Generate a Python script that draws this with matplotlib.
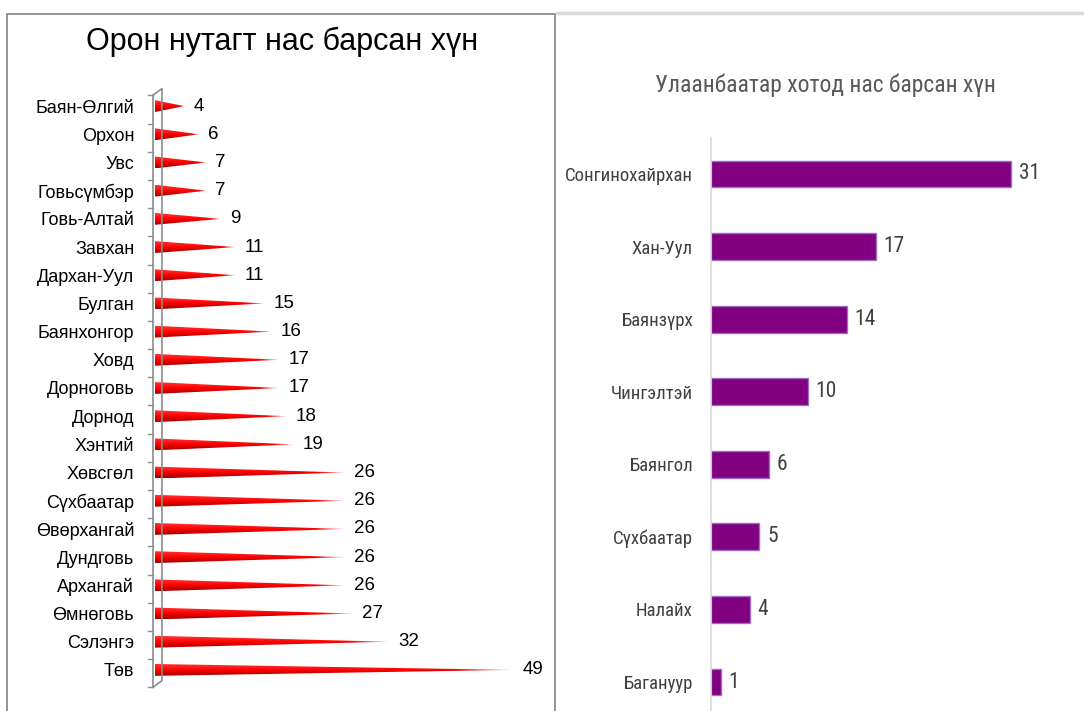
import numpy as np
import matplotlib
matplotlib.use("Agg")
import matplotlib.pyplot as plt
from matplotlib import font_manager
from matplotlib.patches import Polygon
from matplotlib.lines import Line2D

# --- data ---
aimag_names = ['Баян-Өлгий', 'Орхон', 'Увс', 'Говьсүмбэр', 'Говь-Алтай', 'Завхан',
               'Дархан-Уул', 'Булган', 'Баянхонгор', 'Ховд', 'Дорноговь', 'Дорнод',
               'Хэнтий', 'Хөвсгөл', 'Сүхбаатар', 'Өвөрхангай', 'Дундговь', 'Архангай',
               'Өмнөговь', 'Сэлэнгэ', 'Төв']
aimag_deaths = [4, 6, 7, 7, 9, 11, 11, 15, 16, 17, 17, 18, 19, 26, 26, 26, 26, 26, 27, 32, 49]

district_names = ['Сонгинохайрхан', 'Хан-Уул', 'Баянзүрх', 'Чингэлтэй', 'Баянгол',
                  'Сүхбаатар', 'Налайх', 'Багануур']
district_deaths = [31, 17, 14, 10, 6, 5, 4, 1]

title_left = 'Орон нутагт нас барсан хүн'
title_right = 'Улаанбаатар хотод нас барсан хүн'


def pick_font(names):
    for n in names:
        try:
            font_manager.findfont(n, fallback_to_default=False)
            return n
        except ValueError:
            pass
    return 'DejaVu Sans'


arial = pick_font(['Liberation Sans', 'Arial', 'DejaVu Sans'])
narrow = pick_font(['Liberation Sans Narrow', 'Roboto Condensed', 'DejaVu Sans Condensed',
                    'Liberation Sans'])
plt.rcParams['font.family'] = [arial, 'DejaVu Sans']

W, H = 1084, 711
fig = plt.figure(figsize=(W / 100, H / 100), dpi=100)


def fx(px):
    return px / W


def fy(py):
    return 1 - py / H


# panel frames
fig.add_artist(Line2D([fx(7), fx(7), fx(555), fx(555)], [fy(H + 5), fy(14), fy(14), fy(H + 5)],
                      transform=fig.transFigure, color='#8c8c8c', lw=1.3))
fig.add_artist(Line2D([fx(557), fx(W)], [fy(13), fy(13)],
                      transform=fig.transFigure, color='#d9d9d9', lw=2.5))

# ---------- left: cone chart ----------
px_per_unit = 7.31
x0_px = 155
axL = fig.add_axes([fx(x0_px), fy(684), fx(555 - x0_px), (684 - 92) / H])
n = len(aimag_names)
ypos = np.arange(n)
h = 0.21

# vertical red shading for the cones
rows = np.linspace(0, 1, 24)[:, None]
cols = np.linspace(0, 1, 60)[None, :]
top = np.array([1.0, 0.2, 0.2])
mid = np.array([1.0, 0.0, 0.0])
bot = np.array([0.62, 0.0, 0.0])
shade = np.where(rows[..., None] < 0.5,
                 top + (mid - top) * (rows[..., None] / 0.5),
                 mid + (bot - mid) * ((rows[..., None] - 0.5) / 0.5))
shade = np.broadcast_to(shade, (24, 60, 3)).copy()
fade = np.clip((cols - 0.85) / 0.15, 0, 1)[..., None] * 0.55
shade = shade * (1 - fade) + fade

for y, v in zip(ypos, aimag_deaths):
    cone = Polygon([[0, y - h], [0, y + h], [v, y]], closed=True,
                   facecolor='none', edgecolor='none')
    axL.add_patch(cone)
    im = axL.imshow(shade, extent=(0, v, y + h, y - h), origin='upper',
                    aspect='auto', interpolation='bilinear')
    im.set_clip_path(cone)
    axL.text(v + 1.25, y, str(v), ha='left', va='center', fontsize=13.5, color='black')

# 3D-ish wall
wall_off = 0.12
wall_front = -0.3
wall_back = 0.95
axL.plot([wall_front, wall_front], [-0.5 + wall_off, n - 0.5 + wall_off],
         color='#8c8c8c', lw=1.2, clip_on=False)
axL.plot([wall_front, wall_back, wall_back, wall_front],
         [-0.5 + wall_off, -0.5 - wall_off, n - 0.5 - wall_off, n - 0.5 + wall_off],
         color='#8c8c8c', lw=1.2, clip_on=False)
for k in range(n + 1):
    axL.plot([-1.0, wall_front], [k - 0.5 + wall_off] * 2, color='#8c8c8c', lw=1.0,
             clip_on=False)

axL.set_xlim(0, (555 - x0_px) / px_per_unit)
axL.set_ylim(n - 0.5, -0.5)
axL.set_yticks(ypos)
axL.set_yticklabels(aimag_names, fontsize=13, color='black')
axL.tick_params(axis='y', length=0, pad=15)
axL.set_xticks([])
for s in axL.spines.values():
    s.set_visible(False)
axL.patch.set_visible(False)

fig.text(fx(282), fy(42), title_left, ha='center', va='center', fontsize=22, color='black')

# ---------- right: purple bars ----------
axR_left = 711
px_per_unit_r = 9.68
m = len(district_names)
row_h = 72.6
top_px = 174 - row_h / 2
bot_px = 682 + row_h / 2
axR = fig.add_axes([fx(axR_left), fy(bot_px), fx(W - axR_left), (bot_px - top_px) / H])
yr = np.arange(m)
axR.barh(yr, district_deaths, height=0.37, color='#800080', edgecolor='#9b6fc8', lw=1)
for y, v in zip(yr, district_deaths):
    axR.text(v + 0.8, y, str(v), ha='left', va='center', fontsize=15.5,
             color='#404040', family=[narrow, 'DejaVu Sans'])
axR.set_xlim(0, (W - axR_left) / px_per_unit_r)
axR.set_ylim(m - 0.5, -0.5)
axR.set_yticks(yr)
axR.set_yticklabels(district_names, fontsize=13.5, color='#404040', family=[narrow, 'DejaVu Sans'])
axR.tick_params(axis='y', length=0, pad=13)
axR.set_xticks([])
for s in ['top', 'right', 'bottom']:
    axR.spines[s].set_visible(False)
axR.spines['left'].set_color('#d9d9d9')
axR.spines['left'].set_linewidth(1.2)
axR.patch.set_visible(False)

fig.text(fx(825), fy(85), title_right, ha='center', va='center', fontsize=17,
         color='#595959', family=[narrow, 'DejaVu Sans'])

fig.savefig('out.png', dpi=100)
